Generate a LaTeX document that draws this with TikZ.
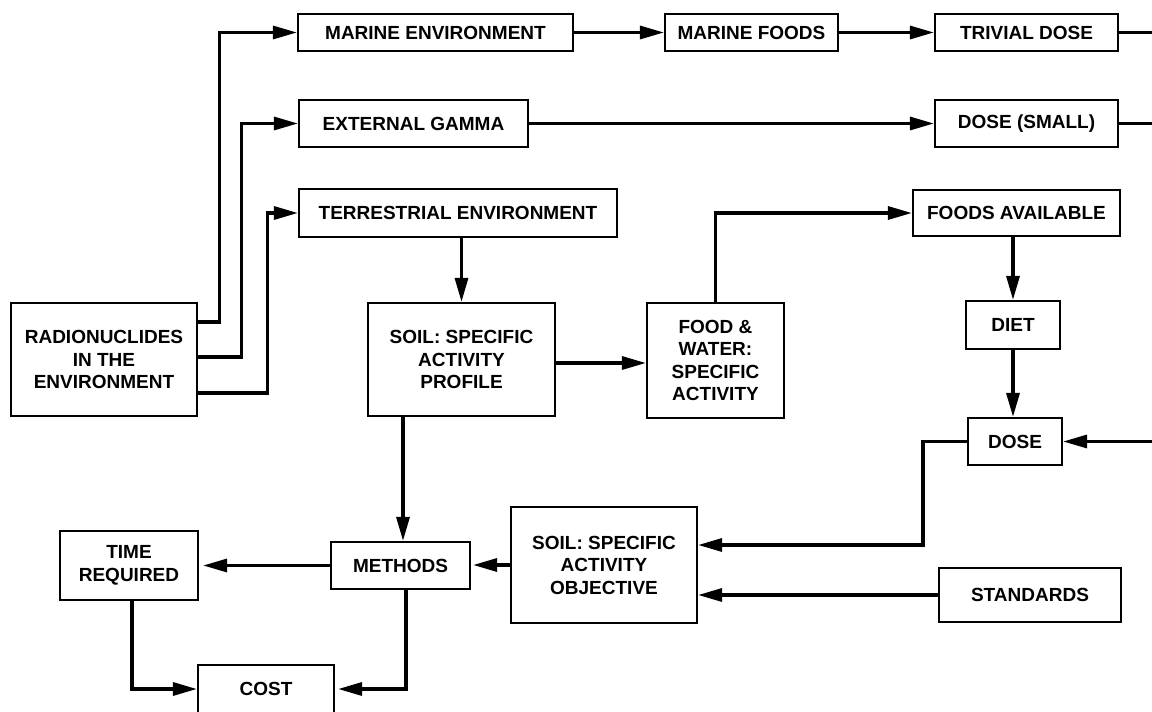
\documentclass[tikz,border=0pt]{standalone}
\usepackage{fontspec}
\setmainfont{Liberation Sans}
\usetikzlibrary{arrows.meta}
\begin{document}
\begin{tikzpicture}[x=1pt,y=-1pt,
  box/.style={draw, line width=2.2pt, inner sep=0pt, align=center,
    font=\bfseries\fontsize{19}{22.5}\selectfont},
  conn/.style={line width=3.2pt},
  arr/.style={conn, -{Triangle[length=24pt,width=13pt]}}]
\useasboundingbox (0,0) rectangle (1152,712);
\fill[white] (0,0) rectangle (1152,712);
% top row
\node[box, minimum width=275pt, minimum height=37pt] (menv) at (435.5,32.5) {MARINE ENVIRONMENT};
\node[box, minimum width=173pt, minimum height=37pt] (mfood) at (751.5,32.5) {MARINE FOODS};
\node[box, minimum width=183pt, minimum height=37pt] (tdose) at (1026.5,32.5) {TRIVIAL DOSE};
% second row
\node[box, minimum width=229pt, minimum height=47pt] (ext) at (413.5,123.5) {EXTERNAL GAMMA};
\node[box, minimum width=183pt, minimum height=47pt] (dsmall) at (1026.5,123.5) {DOSE (SMALL)};
% third row
\node[box, minimum width=318pt, minimum height=48pt] (terr) at (458,213) {TERRESTRIAL ENVIRONMENT};
\node[box, minimum width=207pt, minimum height=46pt] (favail) at (1016.5,213) {FOODS AVAILABLE};
% middle row
\node[box, minimum width=186pt, minimum height=113pt] (radio) at (104,359.5) {RADIONUCLIDES\\IN THE\\ENVIRONMENT};
\node[box, minimum width=187pt, minimum height=113pt] (sp) at (461.5,359.5) {SOIL: SPECIFIC\\ACTIVITY\\PROFILE};
\node[box, minimum width=137pt, minimum height=115pt] (fw) at (715.5,360.5) {FOOD \&\\WATER:\\SPECIFIC\\ACTIVITY};
\node[box, minimum width=94pt, minimum height=48pt] (diet) at (1013,325) {DIET};
\node[box, minimum width=94pt, minimum height=47pt] (dose) at (1015,441.5) {DOSE};
% lower part
\node[box, minimum width=186pt, minimum height=116pt] (so) at (604,565) {SOIL: SPECIFIC\\ACTIVITY\\OBJECTIVE};
\node[box, minimum width=182pt, minimum height=54pt] (std) at (1030,595) {STANDARDS};
\node[box, minimum width=139pt, minimum height=47pt] (methods) at (400.5,565.5) {METHODS};
\node[box, minimum width=138pt, minimum height=69pt] (time) at (129,565.5) {TIME\\REQUIRED};
\node[box, minimum width=136pt, minimum height=48pt] (cost) at (266,689) {COST};
% free ends and bends
\coordinate (tdout) at (1160,32.5);
\coordinate (dsout) at (1160,123.5);
\coordinate (dosein) at (1160,441.5);
\coordinate (d1) at (923,545);
% connectors
\draw[arr] (radio.east |- 0,322) -- ++(21,0) |- (menv.west);
\draw[arr] (radio.east |- 0,357) -- ++(43,0) |- (ext.west);
\draw[arr] (radio.east |- 0,393) -- ++(69,0) |- (terr.west);
\draw[arr] (menv.east) -- (mfood.west);
\draw[arr] (mfood.east) -- (tdose.west);
\draw[conn] (tdose.east) -- (tdout);
\draw[arr] (ext.east) -- (dsmall.west);
\draw[conn] (dsmall.east) -- (dsout);
\draw[arr] (terr.south -| sp.north) -- (sp.north);
\draw[arr] (sp.east |- 0,363) -- (fw.west |- 0,363);
\draw[arr] (fw.north) |- (favail.west);
\draw[arr] (favail.south -| diet.north) -- (diet.north);
\draw[arr] (diet.south) -- (diet.south |- dose.north);
\draw[arr] (dosein) -- (dose.east);
\draw[arr] (dose.west) -| (d1) -- (so.east |- d1);
\draw[arr] (std.west) -- (so.east |- std.west);
\draw[arr] (sp.south -| 403,0) -- (methods.north -| 403,0);
\draw[arr, shorten >=2pt] (so.west) -- (so.west -| methods.east);
\draw[arr, shorten >=4pt] (methods.west) -- (methods.west -| time.east);
\draw[arr] (time.south -| 132,0) |- (cost.west);
\draw[arr, shorten >=3pt] (methods.south -| 406,0) |- (cost.east);
\end{tikzpicture}
\end{document}
